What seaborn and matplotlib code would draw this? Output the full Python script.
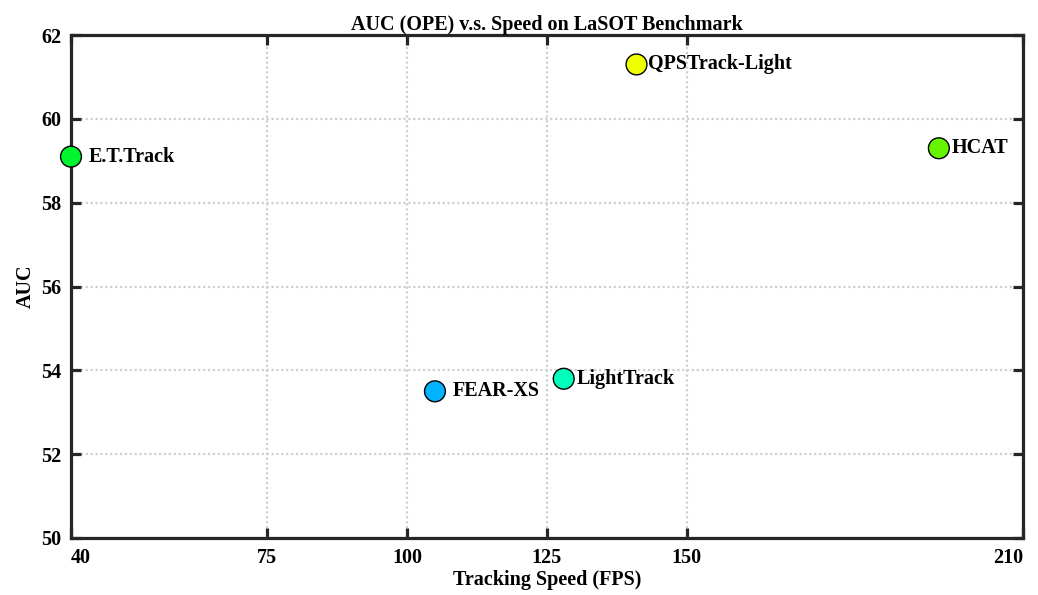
import matplotlib
matplotlib.use("Agg")
import matplotlib.pyplot as plt
import seaborn as sns
import pandas as pd

# Tracker results on LaSOT: speed (FPS) vs. AUC
trackers = ["E.T.Track", "QPSTrack-Light", "HCAT", "LightTrack", "FEAR-XS"]
fps = [40, 141, 195, 128, 105]
auc = [59.1, 61.3, 59.3, 53.8, 53.5]
colors = ["#00f52e", "#eeff00", "#66f500", "#00ffbb", "#00b4ff"]

x_ticks = [40, 75, 100, 125, 150, 210]
y_ticks = [50, 52, 54, 56, 58, 60, 62]

df = pd.DataFrame({"Tracker": trackers, "FPS": fps, "AUC": auc})

sns.set_theme(style="white")
plt.rcParams["font.family"] = ["Liberation Serif", "DejaVu Serif"]
plt.rcParams["font.weight"] = "bold"
plt.rcParams["text.color"] = "black"
plt.rcParams["axes.labelcolor"] = "black"

fig = plt.figure(figsize=(10.38, 5.95), dpi=100)
ax = fig.add_axes([0.0684, 0.0958, 0.917, 0.8452])

ax.set_xlim(40, 210)
ax.set_ylim(50, 62)
ax.set_xticks(x_ticks)
ax.set_yticks(y_ticks)
ax.set_xticklabels([str(v) for v in x_ticks], fontsize=14.5, fontweight="bold")
ax.set_yticklabels([str(v) for v in y_ticks], fontsize=14.5, fontweight="bold")

# keep the edge labels inside the frame width
xlabels = ax.get_xticklabels()
xlabels[0].set_horizontalalignment("left")
xlabels[-1].set_horizontalalignment("right")

# dotted grid behind the markers
ax.set_axisbelow(True)
ax.grid(True, linestyle=(0, (1, 1.2)), color="#cfcfcf", linewidth=1.6)

sns.scatterplot(data=df, x="FPS", y="AUC", hue="Tracker", palette=colors,
                s=225, edgecolor="black", linewidth=1.0, legend=False,
                ax=ax, zorder=5, clip_on=False)

# label offsets in points (dx, dy)
offsets = {
    "E.T.Track": (13, 0),
    "QPSTrack-Light": (8, 0),
    "HCAT": (9, 0),
    "LightTrack": (9, 0),
    "FEAR-XS": (13, 0),
}
for name, x, y in zip(trackers, fps, auc):
    ax.annotate(name, (x, y), xytext=offsets[name], textcoords="offset points",
                ha="left", va="center", fontsize=14.5, fontweight="bold",
                color="black", zorder=6)

for side in ["left", "right", "top", "bottom"]:
    ax.spines[side].set_visible(True)
    ax.spines[side].set_color("#262626")
    ax.spines[side].set_linewidth(2.3)

ax.tick_params(axis="both", which="major", direction="in", length=7, width=2.3,
               color="#262626", top=True, right=True, bottom=True, left=True,
               labelcolor="black")
ax.tick_params(axis="x", pad=7)
ax.tick_params(axis="y", pad=7)

ax.set_xlabel("Tracking Speed (FPS)", fontsize=14.5, fontweight="bold",
              labelpad=2, color="black")
ax.set_ylabel("AUC", fontsize=14.5, fontweight="bold", labelpad=4,
              color="black")
ax.set_title("AUC (OPE) v.s. Speed on LaSOT Benchmark", fontsize=14.5,
             fontweight="bold", pad=4, color="black")

fig.savefig("out.png", dpi=100)
